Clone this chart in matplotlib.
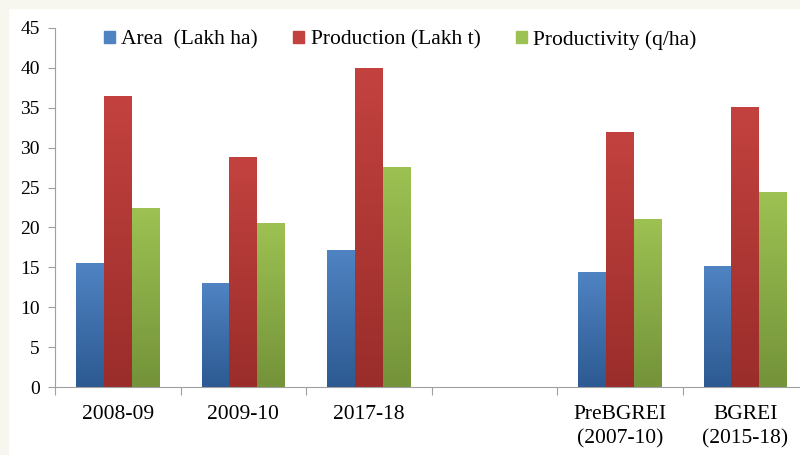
import numpy as np
import matplotlib.pyplot as plt
from matplotlib.patches import Rectangle
from matplotlib.colors import LinearSegmentedColormap
from matplotlib.ticker import FixedLocator

categories = ['2008-09', '2009-10', '2017-18', '', 'PreBGREI\n(2007-10)', 'BGREI\n(2015-18)']
series = ['Area  (Lakh ha)', 'Production (Lakh t)', 'Productivity (q/ha)']
area = [15.6, 13.0, 17.2, np.nan, 14.4, 15.2]
production = [36.5, 28.8, 40.0, np.nan, 32.0, 35.1]
productivity = [22.4, 20.5, 27.6, np.nan, 21.0, 24.4]
yticks = [0, 5, 10, 15, 20, 25, 30, 35, 40, 45]

# top / bottom gradient colours, excel 2007 style
grad = [('#4F83C2', '#2D5A92'),
        ('#C3423F', '#9A2D2A'),
        ('#9DC152', '#74933A')]

plt.rcParams['font.family'] = ['Liberation Serif', 'DejaVu Serif']

fig = plt.figure(figsize=(8.0, 4.55), dpi=100)
fig.patch.set_facecolor('white')
# cream frame on top and left edge
fig.patches.append(Rectangle((0, 0), 8/800, 1, transform=fig.transFigure, color='#F7F7EF', zorder=0))
fig.patches.append(Rectangle((0, 1 - 8/455), 1, 8/455, transform=fig.transFigure, color='#F7F7EF', zorder=0))

ax = fig.add_axes([55/800, 1 - 387/455, 753/800, 359/455])
ax.set_facecolor('none')

n = len(categories)
x = np.arange(n)
w = 0.22
data = [area, production, productivity]
handles = []
for i, (vals, (ctop, cbot)) in enumerate(zip(data, grad)):
    cmap = LinearSegmentedColormap.from_list('g%d' % i, [cbot, ctop])
    offs = (i - 1) * w
    bars = ax.bar(x + offs, np.nan_to_num(vals), w, color='none', edgecolor='none', zorder=2)
    for b, v in zip(bars, vals):
        if np.isnan(v):
            continue
        x0, y0 = b.get_x(), b.get_y()
        h = b.get_height()
        img = ax.imshow(np.linspace(0, 1, 100).reshape(-1, 1), cmap=cmap, origin='lower',
                        extent=[x0, x0 + w, y0, y0 + h], aspect='auto', zorder=2)
        img.set_clip_path(b)
    handles.append(Rectangle((0, 0), 1, 1, color=ctop))

ax.set_xlim(-0.5, n - 0.5)
ax.set_ylim(0, 45)
ax.set_yticks(yticks)
ax.set_yticklabels([str(t) for t in yticks], fontsize=14)

ax.xaxis.set_major_locator(FixedLocator(np.arange(n + 1) - 0.5))
ax.xaxis.set_minor_locator(FixedLocator(x))
ax.set_xticklabels([], minor=False)
ax.set_xticklabels(categories, minor=True, fontsize=15.5, linespacing=1.35)
ax.tick_params(axis='x', which='major', length=6, color='#A0A0A0', direction='out')
ax.tick_params(axis='x', which='minor', length=0, pad=13)
ax.tick_params(axis='y', length=5, color='#A0A0A0', pad=6)

for s in ['top', 'right']:
    ax.spines[s].set_visible(False)
for s in ['left', 'bottom']:
    ax.spines[s].set_color('#A0A0A0')

ax.legend(handles, series, loc='upper left', bbox_to_anchor=(0.065, 0.995), ncol=3, frameon=False,
          fontsize=15.5, handlelength=0.5, handleheight=0.5, handletextpad=0.3, columnspacing=1.65,
          borderaxespad=0, borderpad=0)

fig.savefig('out.png', dpi=100)
